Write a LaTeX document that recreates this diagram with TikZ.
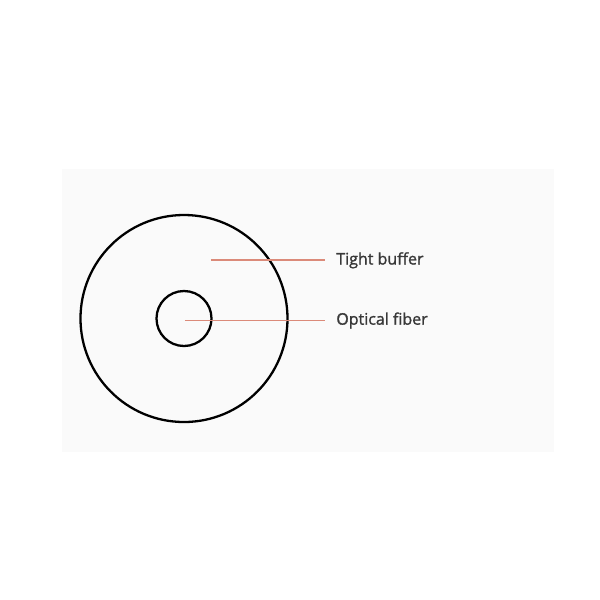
\documentclass[tikz,border=0pt]{standalone}
\usepackage{fontspec}
\setmainfont{Open Sans}
\newfontfamily\rotulofont[FakeBold=1.3]{Open Sans}
\definecolor{fondo}{HTML}{FAFAFA}
\definecolor{linea}{HTML}{DB8A79}
\definecolor{texto}{HTML}{383838}
\tikzset{
    capa/.style={circle,draw=black,line width=1.3pt,inner sep=0pt},
    guia/.style={draw=linea,line width=1pt},
    rotulo/.style={anchor=west,inner xsep=0.22cm,inner ysep=0pt,text=texto,font=\rotulofont\fontsize{9.1}{11}\selectfont}
}
\begin{document}
\begin{tikzpicture}[x=0.02cm,y=-0.02cm]

        % Fondo
        \useasboundingbox (0,0) rectangle (600,600);
        \fill[white] (0,0) rectangle (600,600);
        \fill[fondo] (62,169) rectangle (554,452);

        % Capas
        \node[capa,minimum size=207*0.02cm] (buffer) at (184,318.5) {};
        \node[capa,minimum size=55*0.02cm] (fibra) at (184,318.5) {};

        % Puntos de las guias
        \coordinate (pbuffer) at (211,260.3);
        \coordinate (pfibra) at (185,320.5);

        % Etiquetas
        \node[rotulo] (tbuffer) at (325,260.3) {Tight buffer};
        \node[rotulo] (tfibra) at (325,320.5) {Optical fiber};

        % Guias
        \draw[guia] (pbuffer) -- (tbuffer.west);
        \draw[guia] (pfibra) -- (tfibra.west);

\end{tikzpicture}
\end{document}
